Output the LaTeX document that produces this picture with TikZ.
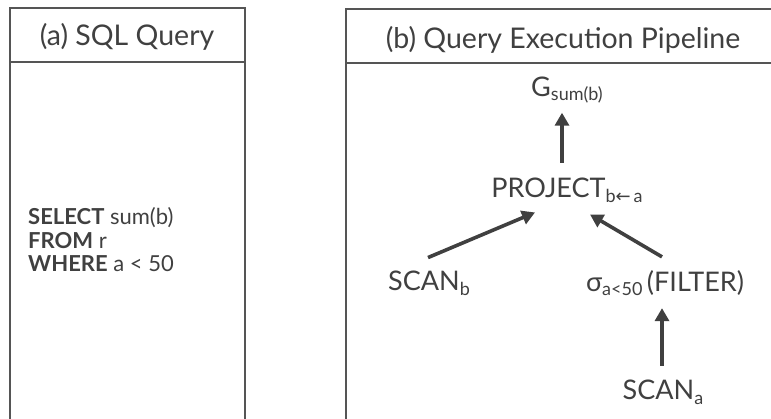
\documentclass[tikz,border=0pt]{standalone}
\usepackage{fontspec}
\setmainfont{Lato}
\newfontfamily\arrowfont{DejaVu Sans}
\usetikzlibrary{arrows.meta}

\definecolor{ink}{HTML}{404040}
\definecolor{rule}{HTML}{555555}

\newcommand{\lowsub}[1]{\raisebox{-0.35ex}{\fontsize{18}{18}\selectfont #1}}

\tikzset{
    panel/.style={draw=rule, line width=1.6pt},
    lbl/.style={text=ink, inner sep=0pt, font=\fontsize{27}{32}\selectfont},
    title/.style={lbl, font=\fontsize{28.5}{34}\selectfont},
    arr/.style={draw=ink, line width=3.6pt, -{Triangle[length=13pt,width=14pt]}}
}

\begin{document}
\begin{tikzpicture}[x=1pt, y=-1pt]
        \useasboundingbox (0,0) rectangle (771,418);
        \clip (0,0) rectangle (771,418);

        % panel (a)
        \draw[panel] (10,440) -- (10,8) -- (245,8) -- (245,440);
        \draw[panel] (10,62) -- (245,62);
        \node[title] (titlea) at (127,37) {(a) SQL Query};
        \node[lbl, anchor=west, align=left, font=\fontsize{22}{23.5}\selectfont] (sql) at (28,240)
            {\textbf{SELECT} sum(b)\\ \textbf{FROM} r\\ \textbf{WHERE} a < 50};

        % panel (b)
        \draw[panel] (346,440) -- (346,9) -- (790,9);
        \draw[panel] (346,63) -- (790,63);
        \node[title] (titleb) at (563,40) {(b) Query Execution Pipeline};

        \node[lbl] (agg) at (567,90) {G\lowsub{sum(b)}};
        \node[lbl] (proj) at (567,190) {PROJECT\lowsub{b{\arrowfont←}\,a}};
        \node[lbl] (scanb) at (429,283) {SCAN\lowsub{b}};
        \node[lbl] (filter) at (665,283) {σ\lowsub{a<50}\,(FILTER)};
        \node[lbl] (scana) at (663,392) {SCAN\lowsub{a}};

        \draw[arr] ([xshift=-5pt,yshift=15pt]proj.north) -- ([xshift=-5pt,yshift=-9pt]agg.south);
        \draw[arr] ([xshift=-1pt,yshift=13pt]scanb.north) -- ([xshift=-32pt,yshift=-10pt]proj.south);
        \draw[arr] ([xshift=-3pt,yshift=13pt]filter.north) -- ([xshift=23pt,yshift=-12pt]proj.south);
        \draw[arr] ([xshift=-1pt,yshift=14pt]scana.north) -- ([xshift=-3pt,yshift=-12pt]filter.south);
\end{tikzpicture}
\end{document}
